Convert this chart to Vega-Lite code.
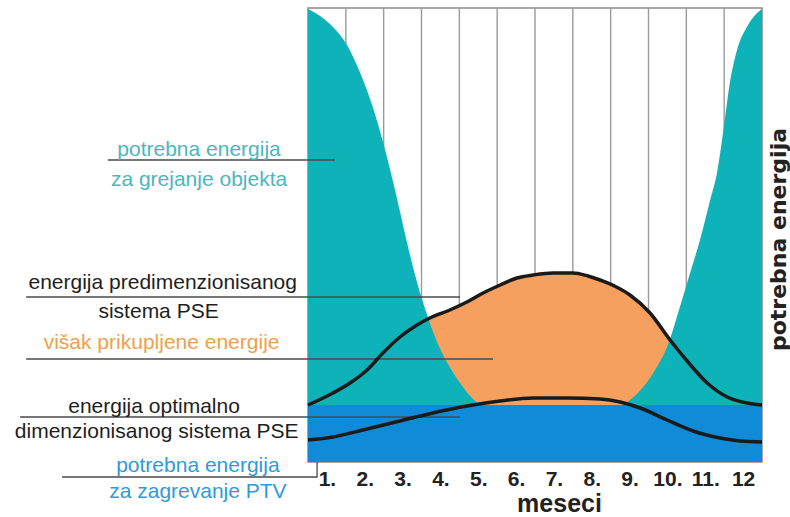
{
  "$schema": "https://vega.github.io/schema/vega-lite/v6.json",
  "width": 454,
  "height": 454,
  "autosize": {"type": "none"},
  "padding": {"left": 308, "top": 8, "right": 28, "bottom": 55},
  "background": "white",
  "config": {
    "font": "Liberation Sans",
    "view": {"stroke": "#8a8a8a", "strokeWidth": 1.5}
  },
  "datasets": {
    "grid": [{"m":1},{"m":2},{"m":3},{"m":4},{"m":5},{"m":6},{"m":7},{"m":8},{"m":9},{"m":10},{"m":11}],
    "teal": [
      {"m":0.00,"v":453},{"m":0.32,"v":446},{"m":0.66,"v":435},{"m":1.03,"v":417},{"m":1.37,"v":390},
      {"m":1.72,"v":354},{"m":2.04,"v":312},{"m":2.35,"v":264},{"m":2.62,"v":219},{"m":2.88,"v":180},
      {"m":3.15,"v":147},{"m":3.41,"v":120},{"m":3.67,"v":100},{"m":4.02,"v":79},{"m":4.36,"v":63},
      {"m":4.55,"v":57},{"m":4.80,"v":48},{"m":8.00,"v":48},
      {"m":8.25,"v":55},{"m":8.51,"v":62},{"m":8.86,"v":75},{"m":9.22,"v":95},{"m":9.49,"v":115},
      {"m":9.62,"v":129},{"m":9.83,"v":155},{"m":10.10,"v":189},{"m":10.36,"v":222},{"m":10.63,"v":262},
      {"m":10.81,"v":289},{"m":10.97,"v":329},{"m":11.15,"v":379},{"m":11.34,"v":412},{"m":11.60,"v":435},
      {"m":11.82,"v":447},{"m":12.00,"v":453}
    ],
    "upper": [
      {"m":0,"v":57},{"m":0.66,"v":69},{"m":1.11,"v":79},{"m":1.56,"v":92},{"m":1.98,"v":109},
      {"m":2.43,"v":125},{"m":2.88,"v":137},{"m":3.22,"v":144},{"m":3.75,"v":152},{"m":4.20,"v":160},
      {"m":4.63,"v":169},{"m":5.08,"v":177},{"m":5.52,"v":184},{"m":5.95,"v":187},{"m":6.48,"v":189},
      {"m":7.00,"v":189},{"m":7.40,"v":186},{"m":7.72,"v":182},{"m":8.10,"v":176},{"m":8.51,"v":167},
      {"m":9.04,"v":149},{"m":9.57,"v":122},{"m":10.02,"v":101},{"m":10.55,"v":79},{"m":11.08,"v":65},
      {"m":11.60,"v":59},{"m":12,"v":57}
    ],
    "lower": [
      {"m":0,"v":22},{"m":0.66,"v":25},{"m":1.56,"v":33},{"m":2.43,"v":41},{"m":3.30,"v":49},
      {"m":4.20,"v":56},{"m":5.08,"v":61},{"m":5.95,"v":64},{"m":6.85,"v":64},{"m":7.72,"v":63},
      {"m":8.25,"v":60},{"m":8.78,"v":54},{"m":9.49,"v":42},{"m":10.18,"v":31},{"m":10.89,"v":24},
      {"m":11.42,"v":21},{"m":12,"v":20}
    ],
    "blue": [{"m":0,"v":57},{"m":12,"v":57}],
    "leaders": [
      {"id":1,"o":0,"m":-5.29,"v":302},{"id":1,"o":1,"m":0.71,"v":302},
      {"id":2,"o":0,"m":-7.45,"v":165},{"id":2,"o":1,"m":4.02,"v":165},
      {"id":3,"o":0,"m":-7.45,"v":103},{"id":3,"o":1,"m":4.89,"v":103},
      {"id":4,"o":0,"m":-7.61,"v":45},{"id":4,"o":1,"m":4.02,"v":45},
      {"id":5,"o":0,"m":-6.50,"v":-15},{"id":5,"o":1,"m":0.24,"v":-15},{"id":5,"o":2,"m":0.24,"v":0}
    ],
    "labels": [
      {"t":"potrebna energija","g":"heat","m":-2.88,"v":312},
      {"t":"za grejanje objekta","g":"heat","m":-2.88,"v":282},
      {"t":"energija predimenzionisanog","g":"sys","m":-3.84,"v":179},
      {"t":"sistema PSE","g":"sys","m":-3.95,"v":150},
      {"t":"višak prikupljene energije","g":"surplus","m":-3.87,"v":119},
      {"t":"energija optimalno","g":"sys","m":-4.07,"v":55},
      {"t":"dimenzionisanog sistema PSE","g":"sys","m":-4.0,"v":30},
      {"t":"potrebna energija","g":"ptv","m":-2.91,"v":-4},
      {"t":"za zagrevanje PTV","g":"ptv","m":-2.91,"v":-30}
    ]
  },
  "encoding": {
    "x": {
      "field": "m", "type": "quantitative",
      "scale": {"domain": [0, 12], "nice": false, "zero": false},
      "axis": {
        "values": [0.5,1.5,2.5,3.5,4.5,5.5,6.5,7.5,8.5,9.5,10.5,11.5],
        "labelExpr": "datum.value == 11.5 ? '12' : format(datum.value + 0.5, 'd') + '.'",
        "labelFontSize": 21, "labelFontWeight": "bold", "labelColor": "#222",
        "labelBaseline": "top", "labelPadding": 6, "labelDx": 3,
        "ticks": false, "domain": false, "grid": false,
        "title": "meseci", "titleFontSize": 25, "titleFontWeight": "bold", "titleColor": "#222",
        "titleX": 251, "titleY": 49, "titleBaseline": "alphabetic", "titleAlign": "center"
      }
    },
    "y": {
      "field": "v", "type": "quantitative",
      "scale": {"domain": [0, 454], "nice": false},
      "axis": {
        "orient": "right", "labels": false, "ticks": false, "domain": false, "grid": false,
        "title": "potrebna energija", "titleFont": "DejaVu Sans", "titleFontSize": 22, "titleFontWeight": "bold", "titleColor": "#222",
        "titleAngle": 270, "titleX": 16, "titleY": 231, "titleBaseline": "middle", "titleAlign": "center"
      }
    }
  },
  "layer": [
    {
      "data": {"name": "grid"},
      "mark": {"type": "rule", "color": "#9a9a9a", "strokeWidth": 1.4},
      "encoding": {"y": null}
    },
    {
      "data": {"name": "upper"},
      "mark": {"type": "area", "color": "#f6a05f", "interpolate": "monotone"}
    },
    {
      "data": {"name": "teal"},
      "mark": {"type": "area", "color": "#0db3b9", "interpolate": "monotone"}
    },
    {
      "data": {"name": "blue"},
      "mark": {"type": "area", "color": "#0f8bd8"}
    },
    {
      "data": {"name": "leaders"},
      "mark": {"type": "line", "color": "#4a4a4a", "strokeWidth": 1.3},
      "encoding": {
        "detail": {"field": "id", "type": "nominal"},
        "order": {"field": "o", "type": "quantitative"}
      }
    },
    {
      "data": {"name": "upper"},
      "mark": {"type": "line", "color": "#1a1a1a", "strokeWidth": 3.5, "interpolate": "monotone"}
    },
    {
      "data": {"name": "lower"},
      "mark": {"type": "line", "color": "#1a1a1a", "strokeWidth": 3.5, "interpolate": "monotone"}
    },
    {
      "data": {"name": "labels"},
      "mark": {"type": "text", "fontSize": 21, "align": "center", "baseline": "middle"},
      "encoding": {
        "text": {"field": "t", "type": "nominal"},
        "color": {
          "field": "g", "type": "nominal", "legend": null,
          "scale": {"domain": ["heat", "sys", "surplus", "ptv"], "range": ["#4db6bd", "#1e1e1e", "#f0a04e", "#2f9bd6"]}
        }
      }
    }
  ]
}
